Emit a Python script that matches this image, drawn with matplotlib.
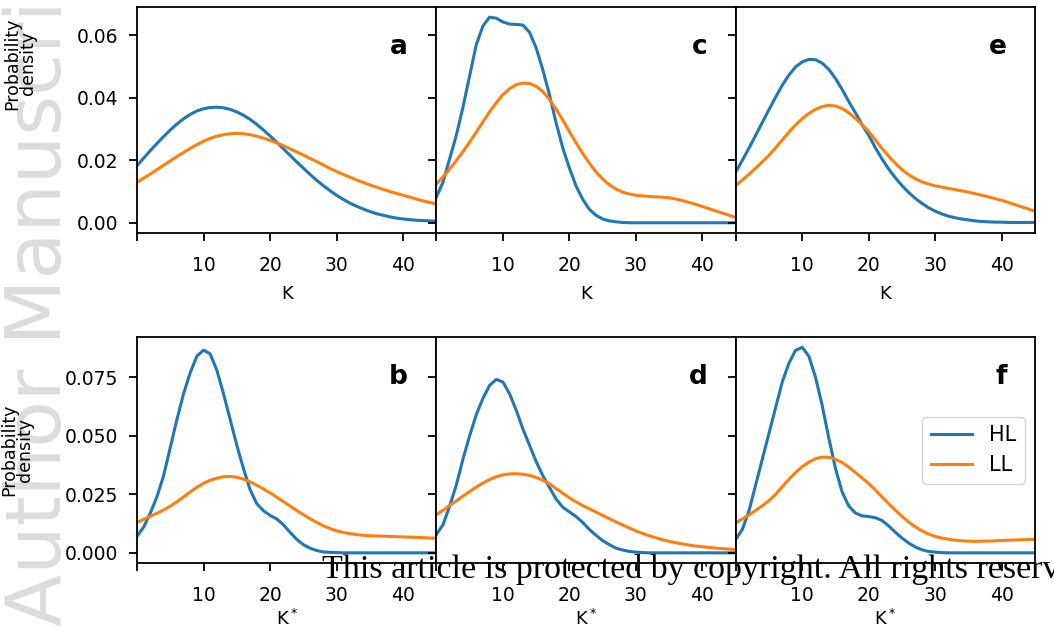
import numpy as np
import matplotlib
matplotlib.use("Agg")
import matplotlib.pyplot as plt
from matplotlib.ticker import FormatStrFormatter

# -- x grid (K values 0..45, every 1 unit)
x_grid = list(range(0, 46))

# -- top row (K)
a_hl = [0.0183, 0.0207, 0.0231, 0.0254, 0.0276, 0.0297, 0.0316, 0.0333, 0.0347, 0.0358,
        0.0365, 0.0369, 0.0370, 0.0368, 0.0363, 0.0355, 0.0344, 0.0331, 0.0315, 0.0297,
        0.0278, 0.0258, 0.0237, 0.0216, 0.0195, 0.0175, 0.0155, 0.0136, 0.0119, 0.0103,
        0.0088, 0.0075, 0.0063, 0.0053, 0.0044, 0.0036, 0.0029, 0.0024, 0.0019, 0.0015,
        0.0012, 0.0010, 0.0008, 0.0007, 0.0006, 0.0005]
a_ll = [0.0130, 0.0143, 0.0156, 0.0170, 0.0184, 0.0198, 0.0212, 0.0225, 0.0238, 0.0250,
        0.0261, 0.0270, 0.0277, 0.0282, 0.0285, 0.0286, 0.0285, 0.0282, 0.0277, 0.0271,
        0.0264, 0.0256, 0.0247, 0.0237, 0.0227, 0.0217, 0.0206, 0.0196, 0.0185, 0.0174,
        0.0164, 0.0155, 0.0146, 0.0137, 0.0129, 0.0121, 0.0114, 0.0107, 0.0100, 0.0094,
        0.0088, 0.0082, 0.0076, 0.0070, 0.0065, 0.0060]
c_hl = [0.0082, 0.0130, 0.0205, 0.0280, 0.0370, 0.0470, 0.0570, 0.0630, 0.0658, 0.0655,
        0.0643, 0.0636, 0.0635, 0.0633, 0.0610, 0.0560, 0.0490, 0.0410, 0.0320, 0.0240,
        0.0175, 0.0118, 0.0075, 0.0043, 0.0024, 0.0012, 0.0006, 0.0003, 0.0001, 0.0,
        0.0, 0.0, 0.0, 0.0, 0.0, 0.0, 0.0, 0.0, 0.0, 0.0,
        0.0, 0.0, 0.0, 0.0, 0.0, 0.0]
c_ll = [0.0124, 0.0147, 0.0172, 0.0199, 0.0228, 0.0258, 0.0290, 0.0323, 0.0355, 0.0384,
        0.0410, 0.0429, 0.0442, 0.0447, 0.0446, 0.0437, 0.0420, 0.0395, 0.0364, 0.0329,
        0.0292, 0.0256, 0.0222, 0.0191, 0.0163, 0.0140, 0.0122, 0.0108, 0.0098, 0.0092,
        0.0088, 0.0086, 0.0084, 0.0083, 0.0082, 0.0080, 0.0076, 0.0071, 0.0065, 0.0059,
        0.0052, 0.0045, 0.0038, 0.0031, 0.0024, 0.0017]
e_hl = [0.0162, 0.0200, 0.0239, 0.0280, 0.0321, 0.0362, 0.0402, 0.0440, 0.0473, 0.0499,
        0.0515, 0.0523, 0.0522, 0.0511, 0.0491, 0.0462, 0.0427, 0.0388, 0.0352, 0.0314,
        0.0280, 0.0240, 0.0204, 0.0172, 0.0144, 0.0119, 0.0097, 0.0078, 0.0062, 0.0048,
        0.0037, 0.0028, 0.0021, 0.0016, 0.0012, 0.0009, 0.0006, 0.0004, 0.0003, 0.0002,
        0.0002, 0.0001, 0.0001, 0.0001, 0.0001, 0.0001]
e_ll = [0.0119, 0.0137, 0.0155, 0.0175, 0.0195, 0.0216, 0.0240, 0.0265, 0.0290, 0.0313,
        0.0333, 0.0350, 0.0363, 0.0372, 0.0376, 0.0374, 0.0366, 0.0352, 0.0334, 0.0314,
        0.0292, 0.0265, 0.0238, 0.0213, 0.0190, 0.0170, 0.0154, 0.0141, 0.0131, 0.0124,
        0.0118, 0.0114, 0.0110, 0.0106, 0.0102, 0.0098, 0.0093, 0.0088, 0.0083, 0.0077,
        0.0072, 0.0065, 0.0058, 0.0051, 0.0044, 0.0037]

# -- bottom row (K*)
b_hl = [0.0071, 0.0110, 0.0170, 0.0240, 0.0330, 0.0450, 0.0570, 0.0680, 0.0770, 0.0840,
        0.0866, 0.0850, 0.0780, 0.0680, 0.0570, 0.0460, 0.0360, 0.0270, 0.0210, 0.0180,
        0.0160, 0.0145, 0.0120, 0.0088, 0.0058, 0.0035, 0.0020, 0.0010, 0.0004, 0.0002,
        0.0001, 0.0, 0.0, 0.0, 0.0, 0.0, 0.0, 0.0, 0.0, 0.0,
        0.0, 0.0, 0.0, 0.0, 0.0, 0.0]
b_ll = [0.0130, 0.0143, 0.0156, 0.0169, 0.0183, 0.0199, 0.0218, 0.0239, 0.0260, 0.0280,
        0.0297, 0.0310, 0.0319, 0.0325, 0.0326, 0.0323, 0.0315, 0.0303, 0.0289, 0.0273,
        0.0256, 0.0238, 0.0219, 0.0200, 0.0181, 0.0163, 0.0146, 0.0130, 0.0116, 0.0104,
        0.0094, 0.0087, 0.0082, 0.0078, 0.0075, 0.0073, 0.0072, 0.0071, 0.0070, 0.0069,
        0.0068, 0.0067, 0.0066, 0.0065, 0.0063, 0.0062]
d_hl = [0.0078, 0.0120, 0.0200, 0.0290, 0.0400, 0.0500, 0.0590, 0.0660, 0.0715, 0.0741,
        0.0730, 0.0680, 0.0610, 0.0530, 0.0460, 0.0390, 0.0330, 0.0280, 0.0230, 0.0195,
        0.0175, 0.0155, 0.0130, 0.0100, 0.0075, 0.0052, 0.0035, 0.0020, 0.0012, 0.0006,
        0.0003, 0.0001, 0.0, 0.0, 0.0, 0.0, 0.0, 0.0, 0.0, 0.0,
        0.0, 0.0, 0.0, 0.0, 0.0, 0.0]
d_ll = [0.0163, 0.0182, 0.0202, 0.0222, 0.0242, 0.0262, 0.0281, 0.0298, 0.0313, 0.0325,
        0.0333, 0.0337, 0.0338, 0.0336, 0.0331, 0.0322, 0.0310, 0.0295, 0.0275, 0.0255,
        0.0235, 0.0218, 0.0202, 0.0188, 0.0174, 0.0160, 0.0146, 0.0132, 0.0119, 0.0106,
        0.0094, 0.0083, 0.0073, 0.0064, 0.0056, 0.0049, 0.0043, 0.0038, 0.0033, 0.0029,
        0.0026, 0.0023, 0.0020, 0.0018, 0.0016, 0.0014]
f_hl = [0.0057, 0.0100, 0.0180, 0.0290, 0.0400, 0.0510, 0.0620, 0.0730, 0.0810, 0.0865,
        0.0878, 0.0840, 0.0750, 0.0630, 0.0490, 0.0360, 0.0260, 0.0200, 0.0170, 0.0158,
        0.0155, 0.0150, 0.0138, 0.0115, 0.0088, 0.0063, 0.0042, 0.0025, 0.0013, 0.0006,
        0.0003, 0.0001, 0.0, 0.0, 0.0, 0.0, 0.0, 0.0, 0.0, 0.0,
        0.0, 0.0, 0.0, 0.0, 0.0, 0.0]
f_ll = [0.0128, 0.0145, 0.0162, 0.0181, 0.0201, 0.0223, 0.0250, 0.0282, 0.0314, 0.0343,
        0.0368, 0.0388, 0.0402, 0.0409, 0.0408, 0.0400, 0.0386, 0.0366, 0.0343, 0.0320,
        0.0296, 0.0268, 0.0239, 0.0210, 0.0182, 0.0156, 0.0132, 0.0111, 0.0094, 0.0080,
        0.0070, 0.0063, 0.0058, 0.0054, 0.0051, 0.0050, 0.0049, 0.0050, 0.0050, 0.0051,
        0.0053, 0.0054, 0.0055, 0.0056, 0.0057, 0.0057]

panel_letters = [["a", "c", "e"], ["b", "d", "f"]]
hl_data = [[a_hl, c_hl, e_hl], [b_hl, d_hl, f_hl]]
ll_data = [[a_ll, c_ll, e_ll], [b_ll, d_ll, f_ll]]
x_labels = ["K", "K$^*$"]
x_labelpads = [7, 3]
x_ticks = [0, 10, 20, 30, 40]
x_ticklabels = ["", "10", "20", "30", "40"]
y_ticks = [[0.00, 0.02, 0.04, 0.06], [0.000, 0.025, 0.050, 0.075]]
y_fmt = ["%.2f", "%.3f"]

plt.rcParams['font.family'] = ['DejaVu Sans']
plt.rcParams['axes.linewidth'] = 1.3

fig = plt.figure(figsize=(10.54, 6.32), dpi=100)
gs = fig.add_gridspec(2, 3, left=0.130, right=0.982, top=0.989, bottom=0.109,
                      wspace=0, hspace=0.46)

# -- watermark
fig.text(0.058, 0.010, "Author Manuscript", rotation=90, rotation_mode='anchor',
         ha='left', va='baseline', fontsize=55, color='#dcdcdc', zorder=-1)

for r in range(2):
    row_axes = []
    for c in range(3):
        if c == 0:
            ax = fig.add_subplot(gs[r, c])
        else:
            ax = fig.add_subplot(gs[r, c], sharey=row_axes[0])
        row_axes.append(ax)
        ax.plot(x_grid, hl_data[r][c], color='#1f77b4', lw=2.2, label='HL')
        ax.plot(x_grid, ll_data[r][c], color='#ff7f0e', lw=2.2, label='LL')
        ax.set_xlim(0, 45)
        ax.set_xticks(x_ticks)
        ax.set_xticklabels(x_ticklabels)
        ax.set_yticks(y_ticks[r])
        ax.yaxis.set_major_formatter(FormatStrFormatter(y_fmt[r]))
        ax.tick_params(labelsize=13.5, length=5.5, width=1.3)
        ax.tick_params(axis='x', pad=11)
        ax.tick_params(axis='y', pad=8)
        ax.set_xlabel(x_labels[r], fontsize=13, labelpad=x_labelpads[r])
        ax.text(0.905, 0.825, panel_letters[r][c], transform=ax.transAxes,
                ha='right', va='center', fontsize=19, fontweight='bold')
        if c > 0:
            plt.setp(ax.get_yticklabels(), visible=False)
    row_axes[0].set_ylabel("Probability\ndensity", fontsize=12.5, linespacing=0.82)
    if r == 0:
        row_axes[0].yaxis.set_label_coords(-0.335, 0.75)
    else:
        row_axes[0].yaxis.set_label_coords(-0.345, 0.5)
    if r == 1:
        row_axes[2].legend(loc='center right', fontsize=15)

fig.text(0.3055, 0.0854, "This article is protected by copyright. All rights reserved",
         fontsize=24.5, family='Liberation Serif', ha='left', va='baseline')

fig.savefig("out.png", dpi=100)
